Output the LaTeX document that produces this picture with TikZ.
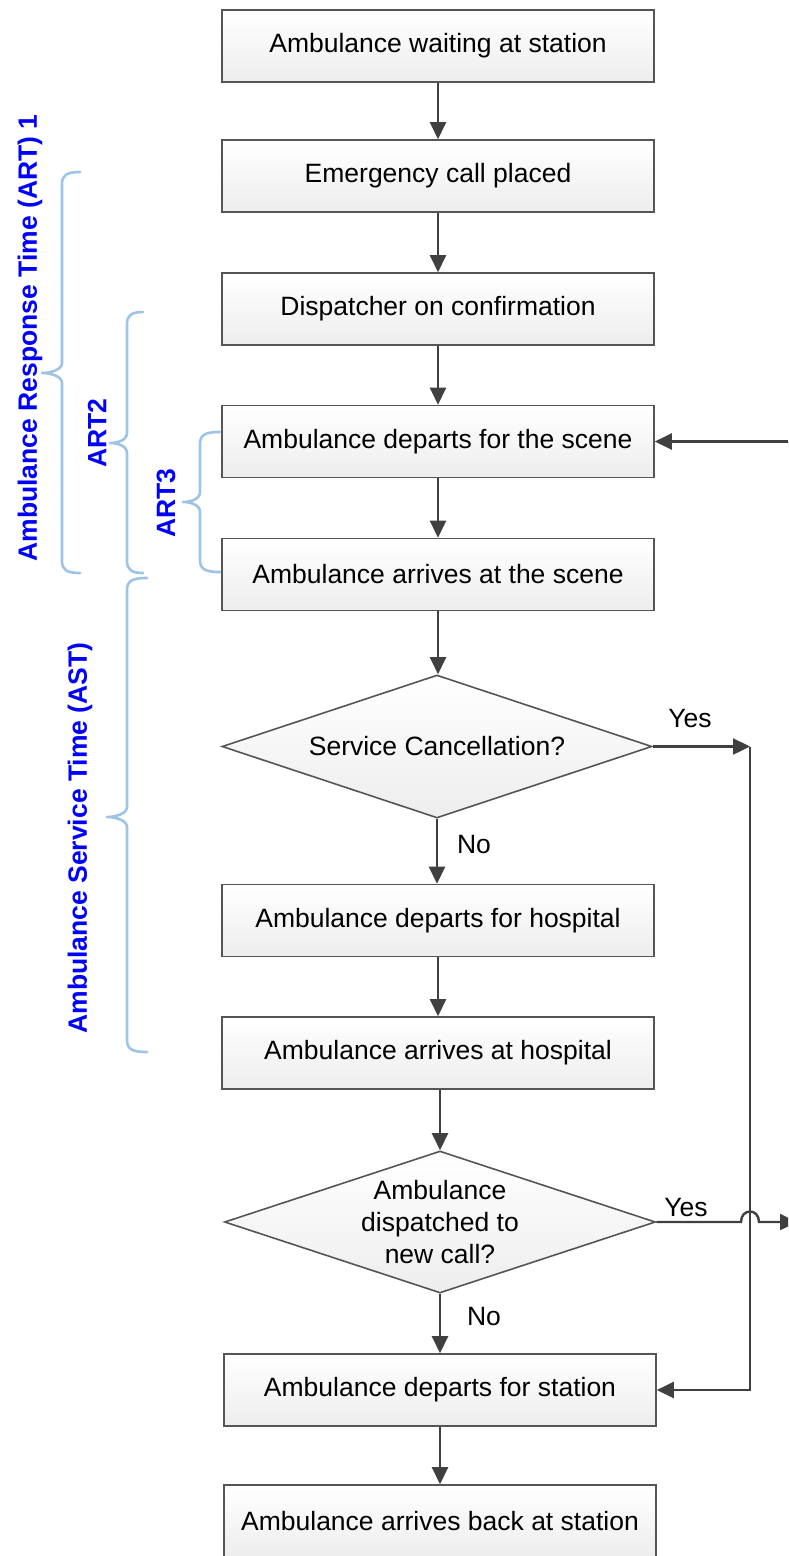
\documentclass[tikz,border=0pt]{standalone}
\usepackage{fontspec}
\setmainfont{Liberation Sans}
\usetikzlibrary{shapes.geometric,arrows.meta}
\definecolor{edgegray}{HTML}{404040}
\definecolor{bordergray}{HTML}{555555}
\definecolor{bracecol}{HTML}{9DC3E6}
\definecolor{labelblue}{HTML}{0000FF}
\newcommand\mybrace[6]{%
  \draw[brace] (#1,#4) .. controls ({#2+5},#4) and (#2,{#4+3}) .. (#2,{#4+12})
    -- (#2,{#5-10}) .. controls (#2,{#5-3}) and ({#3+8},#5) .. (#3,#5)
    .. controls ({#3+8},#5) and (#2,{#5+3}) .. (#2,{#5+10})
    -- (#2,{#6-12}) .. controls (#2,{#6-3}) and ({#2+5},#6) .. (#1,#6);}
\begin{document}
\begin{tikzpicture}[x=1pt,y=-1pt,
  box/.style={draw=bordergray, line width=1.6pt, top color=white, bottom color=gray!14,
    minimum width=432pt, minimum height=72pt, inner sep=0pt, font=\fontsize{26.5}{32}\selectfont},
  dia/.style={diamond, draw=bordergray, line width=1.6pt, top color=white, bottom color=gray!14, inner sep=0pt},
  txt/.style={font=\fontsize{26.5}{32}\selectfont, align=center, inner sep=0pt},
  conn/.style={draw=edgegray, line width=2.4pt, -{Triangle[length=17pt,width=16pt]}},
  plain/.style={draw=edgegray, line width=2.4pt},
  brace/.style={draw=bracecol, line width=2.6pt, line cap=round, line join=round},
  bluelabel/.style={text=labelblue, font=\bfseries\fontsize{26.5}{32}\selectfont, rotate=90, inner sep=0pt},
]
\useasboundingbox (0,0) rectangle (788,1556);
\clip (0,0) rectangle (788,1556);

% boxes
\node[box] (b1) at (438,46) {Ambulance waiting at station};
\node[box] (b2) at (438,176) {Emergency call placed};
\node[box] (b3) at (438,309) {Dispatcher on confirmation};
\node[box] (b4) at (438,441.5) {Ambulance departs for the scene};
\node[box] (b5) at (438,574.5) {Ambulance arrives at the scene};
\node[dia, minimum width=430pt, minimum height=143pt] (d1) at (437,746.5) {};
\node[txt] (d1t) at (d1.center) {Service Cancellation?};
\node[box] (b6) at (438,920.5) {Ambulance departs for hospital};
\node[box] (b7) at (438,1053) {Ambulance arrives at hospital};
\node[dia, minimum width=431pt, minimum height=142pt] (d2) at (440,1222) {};
\node[txt] (d2t) at (d2.center) {Ambulance\\dispatched to\\new call?};
\node[box] (b8) at (440,1390) {Ambulance departs for station};
\node[box] (b9) at (440,1521) {Ambulance arrives back at station};

% main flow
\draw[conn] (b1.south) -- (b2.north);
\draw[conn] (b2.south) -- (b3.north);
\draw[conn] (b3.south) -- (b4.north);
\draw[conn] (b4.south) -- (b5.north);
\draw[conn] (b5.south) -- (b5.south |- d1.north);
\draw[conn] (d1.south) -- (d1.south |- b6.north);
\draw[conn] (b6.south) -- (b7.north);
\draw[conn] (d2.north |- b7.south) -- (d2.north);
\draw[conn] (d2.south) -- (b8.north);
\draw[conn] (b8.south) -- (b9.north);

% right side
\coordinate (c1) at (750,746.5);
\coordinate (e1) at (800,441.5);
\coordinate (h1) at (741,1222);
\coordinate (h2) at (759,1222);
\coordinate (e2) at (797,1222);
\draw[conn] (d1.east) -- (c1);
\draw[conn] (c1) |- (b8.east);
\draw[conn] (e1) -- (b4.east);
\draw[conn] (d2.east) -- (h1) .. controls (741,1208) and (759,1208) .. (h2) -- (e2);

% yes / no labels
\node[txt] (y1) at (690,719) {Yes};
\node[txt] (n1) at (474,845) {No};
\node[txt] (y2) at (686,1207) {Yes};
\node[txt] (n2) at (484,1316) {No};

% braces
\mybrace{80}{62}{42}{172}{373}{573}
\mybrace{143}{127}{110}{312}{443}{573}
\mybrace{220}{200}{183}{432}{502}{572}
\mybrace{147}{127}{107}{578}{817}{1052}

% brace labels
\node[bluelabel] (art1) at (30,338) {Ambulance Response Time (ART) 1};
\node[bluelabel] (art2) at (97,433) {ART2};
\node[bluelabel] (art3) at (166,503) {ART3};
\node[bluelabel] (ast) at (80,838) {Ambulance Service Time (AST)};
\end{tikzpicture}
\end{document}
